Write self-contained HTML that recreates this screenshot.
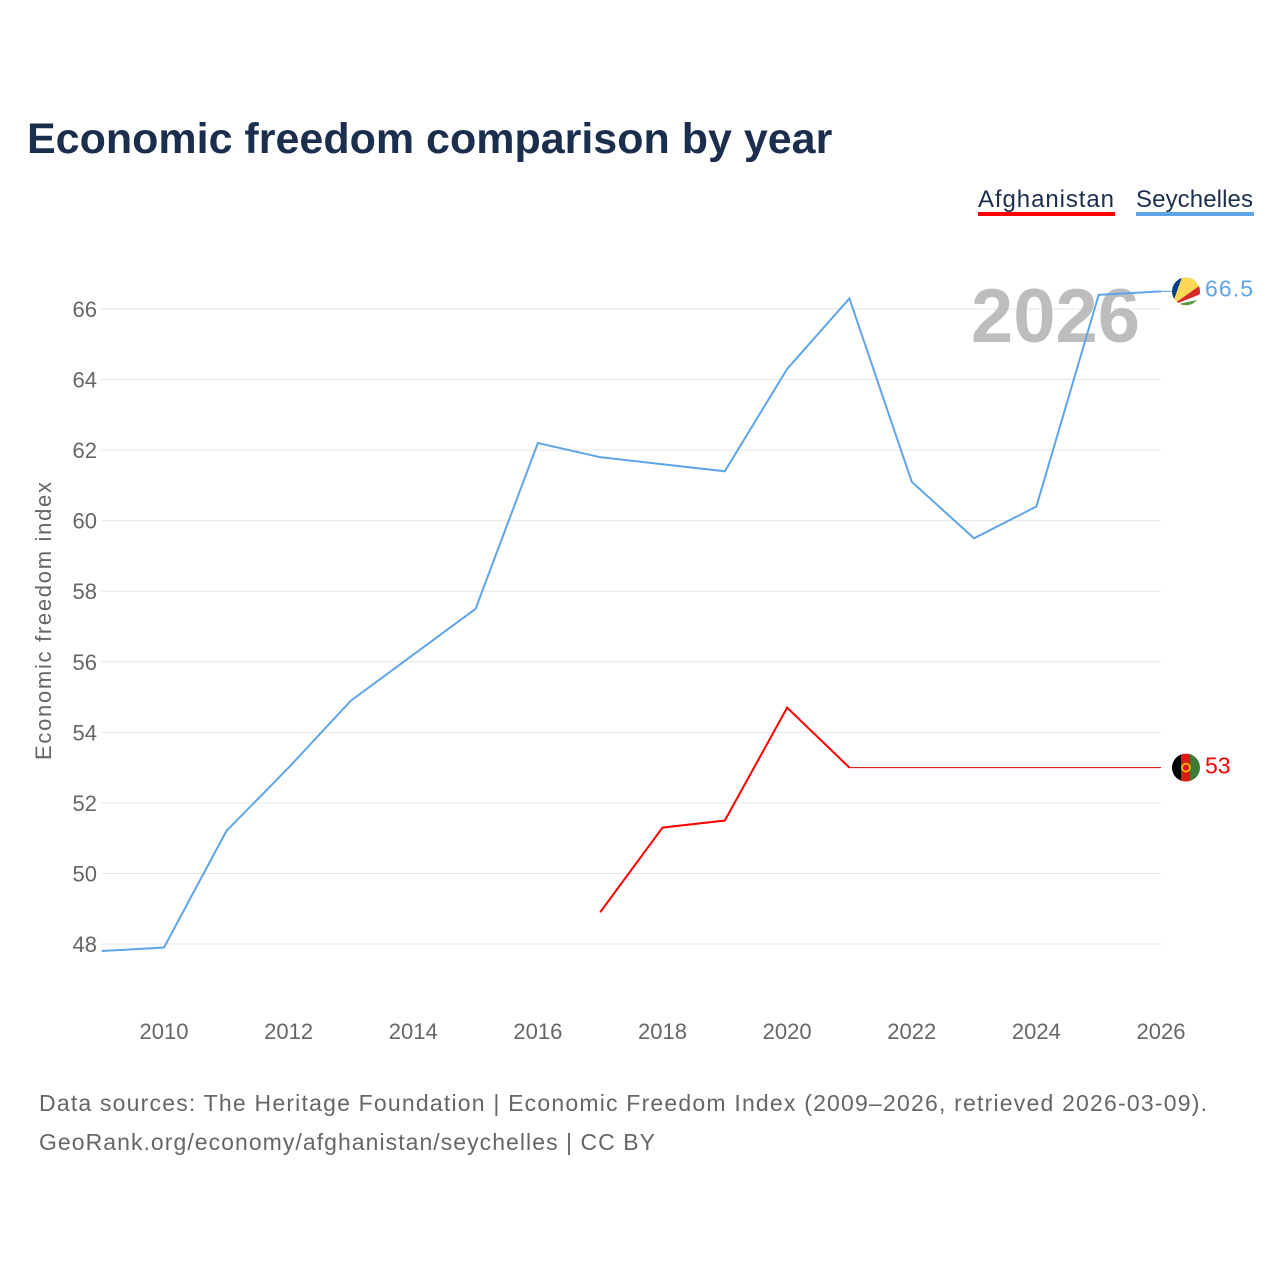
<!DOCTYPE html>
<html><head><meta charset="utf-8"><style>
body{margin:0;background:#fff;font-family:"Liberation Sans",sans-serif;}
#wrap{position:relative;width:1280px;height:1280px;overflow:hidden;}
</style></head><body><div id="wrap">
<svg id="chart" width="1280" height="1280"></svg>
</div>
<script>
const years = [2009,2010,2011,2012,2013,2014,2015,2016,2017,2018,2019,2020,2021,2022,2023,2024,2025,2026];
const seychelles = [47.8,47.9,51.2,53.0,54.9,56.2,57.5,62.2,61.8,61.6,61.4,64.3,66.3,61.1,59.5,60.4,66.4,66.5];
const afgYears = [2017,2018,2019,2020,2021];
const afghanistan = [48.9,51.3,51.5,54.7,53.0];
const afgCarryYears = [2021,2026];
const afgCarry = [53.0,53.0];
const yTicks = [48,50,52,54,56,58,60,62,64,66];
const xTicks = [2010,2012,2014,2016,2018,2020,2022,2024,2026];

const NS="http://www.w3.org/2000/svg";
const svg=document.getElementById('chart');
const x=v=>164+(v-2010)*(1161-164)/16;
const y=v=>944-(v-48)*(944-309)/18;
function mk(tag,attrs,text){const e=document.createElementNS(NS,tag);for(const k in attrs)e.setAttribute(k,attrs[k]);if(text!==undefined)e.textContent=text;svg.appendChild(e);return e;}
const F='"Liberation Sans",sans-serif';

let t=mk('text',{x:27,y:153,'font-size':43,'font-weight':'bold',fill:'#1b2e4e','font-family':F},'Economic freedom comparison by year');



yTicks.forEach(v=>{
  let g=mk('line',{x1:101,x2:1161,y1:y(v),y2:y(v),stroke:'#e6e6e6','stroke-width':1});
  
  
  let l=mk('text',{x:97,y:y(v)+8,'text-anchor':'end','font-size':22,fill:'#666','font-family':F},v);
  
  
});
xTicks.forEach(v=>{
  let l=mk('text',{x:x(v),y:1039,'text-anchor':'middle','font-size':22,fill:'#666','font-family':F},v);
  
  
});
let yt=mk('text',{transform:'translate(51,621) rotate(-90)','text-anchor':'middle','font-size':22,fill:'#666','font-family':F,textLength:278},'Economic freedom index');



let yr=mk('text',{x:1140,y:342,'text-anchor':'end','font-size':76,'font-weight':'bold',fill:'#bdbdbd','font-family':F},'2026');



let ps=mk('polyline',{points:years.map((yy,i)=>x(yy)+','+y(seychelles[i])).join(' '),fill:'none',stroke:'#5ea5e8','stroke-width':2});


let pa=mk('polyline',{points:afgYears.map((yy,i)=>x(yy)+','+y(afghanistan[i])).join(' '),fill:'none',stroke:'#f00','stroke-width':2});


let pc=mk('polyline',{points:afgCarryYears.map((yy,i)=>x(yy)+','+y(afgCarry[i])).join(' '),fill:'none',stroke:'#d00','stroke-width':1});



const sy=y(seychelles[seychelles.length-1]), ay=y(afgCarry[afgCarry.length-1]);
mk('line',{x1:1161,x2:1176,y1:sy,y2:sy,stroke:'#5ea5e8','stroke-width':1});
let defs=mk('defs',{});
defs.innerHTML='<clipPath id="c1"><circle cx="1186" cy="'+sy+'" r="14"/></clipPath><clipPath id="c2"><circle cx="1186" cy="'+ay+'" r="14"/></clipPath>';
let fs=mk('g',{'clip-path':'url(#c1)'});


fs.innerHTML=`<rect x="1172" y="${sy-14}" width="28" height="28" fill="#fff"/>
<polygon points="1172,${sy+14} 1172,${sy-14} 1182,${sy-14}" fill="#003f87"/>
<polygon points="1172,${sy+14} 1182,${sy-14} 1200,${sy-14} 1200,${sy-6}" fill="#fcd856"/>
<polygon points="1172,${sy+14} 1200,${sy-6} 1200,${sy+3}" fill="#d62828"/>
<polygon points="1172,${sy+14} 1200,${sy+8} 1200,${sy+14}" fill="#5a9a3d"/>`;
let fa=mk('g',{'clip-path':'url(#c2)'});


fa.innerHTML=`<rect x="1172" y="${ay-14}" width="10" height="28" fill="#000"/>
<rect x="1181" y="${ay-14}" width="10" height="28" fill="#d32011"/>
<rect x="1190" y="${ay-14}" width="10" height="28" fill="#3d7a36"/>
<circle cx="1186" cy="${ay}" r="4" fill="none" stroke="#fc0" stroke-width="1.5"/>`;
let vs=mk('text',{x:1205,y:sy+5,'font-size':23,fill:'#5ea5e8','font-family':F,textLength:48},'66.5');


let va=mk('text',{x:1205,y:ay+6,'font-size':23,fill:'#f00','font-family':F},'53');



let l1=mk('text',{x:978,y:207,'font-size':24,fill:'#1b2e4e','font-family':F,textLength:136},'Afghanistan');


mk('rect',{x:978,y:212,width:137,height:4,fill:'#f00'});
let l2=mk('text',{x:1136,y:207,'font-size':24,fill:'#1b2e4e','font-family':F,textLength:117},'Seychelles');


mk('rect',{x:1136,y:212,width:118,height:4,fill:'#5ea5e8'});

let s1=mk('text',{x:39,y:1111,'font-size':23,fill:'#666','font-family':F,textLength:1168},'Data sources: The Heritage Foundation | Economic Freedom Index (2009–2026, retrieved 2026-03-09).');


let s2=mk('text',{x:39,y:1150,'font-size':23,fill:'#666','font-family':F,textLength:616},'GeoRank.org/economy/afghanistan/seychelles | CC BY');


</script></body></html>
